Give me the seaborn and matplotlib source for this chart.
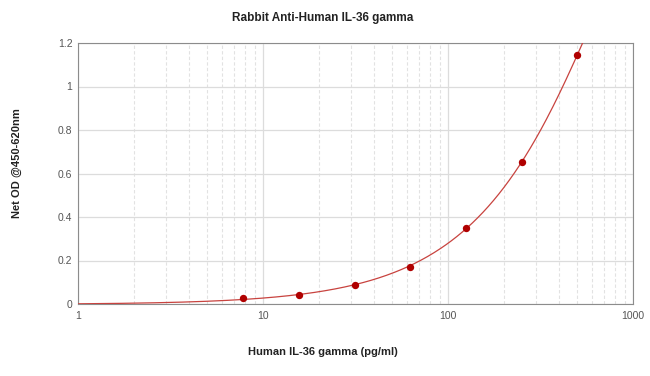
import numpy as np
import pandas as pd
import matplotlib
matplotlib.use("Agg")
import matplotlib.pyplot as plt
import seaborn as sns
from matplotlib.ticker import LogLocator, FixedLocator, NullFormatter

concentration = [7.8125, 15.625, 31.25, 62.5, 125, 250, 500]
net_od = [0.028, 0.041, 0.087, 0.170, 0.349, 0.653, 1.145]
x_ticks = [1, 10, 100, 1000]
x_tick_labels = ["1", "10", "100", "1000"]
y_ticks = [0, 0.2, 0.4, 0.6, 0.8, 1, 1.2]
y_tick_labels = ["0", "0.2", "0.4", "0.6", "0.8", "1", "1.2"]

sns.set_theme(style="white")
plt.rcParams['font.family'] = ['Liberation Sans', 'DejaVu Sans']

df = pd.DataFrame({"conc": concentration, "od": net_od})
coef = np.polyfit(df["conc"], df["od"], 2)
xs = np.logspace(0, np.log10(700), 400)
fit = pd.DataFrame({"conc": xs, "od": np.polyval(coef, xs)})

fig = plt.figure(figsize=(6.5, 3.76), dpi=100)
ax = fig.add_axes([78/650, 1-304/376, (633-78)/650, (304-43)/376])

sns.lineplot(data=fit, x="conc", y="od", ax=ax, color="#c8433f", lw=0.9, zorder=3)
sns.scatterplot(data=df, x="conc", y="od", ax=ax, color="#b00000", s=28,
                edgecolor="#b00000", linewidth=0, zorder=4)

ax.set_xscale("log")
ax.set_xlim(1, 1000)
ax.set_ylim(0, 1.2)
ax.xaxis.set_major_locator(FixedLocator(x_ticks))
ax.set_xticklabels(x_tick_labels)
ax.xaxis.set_minor_locator(LogLocator(base=10, subs=np.arange(2, 10)))
ax.xaxis.set_minor_formatter(NullFormatter())
ax.set_yticks(y_ticks)
ax.set_yticklabels(y_tick_labels)

ax.grid(which="major", axis="both", color="#dcdcdc", lw=0.9, ls="-")
ax.grid(which="minor", axis="x", color="#e2e2e2", lw=0.8, ls=(0, (3, 2)))
ax.set_axisbelow(True)
for s in ax.spines.values():
    s.set_color("#8c8c8c")
    s.set_linewidth(0.8)

ax.tick_params(axis="both", which="both", length=0, labelsize=7.5, labelcolor="#555555")
ax.tick_params(axis="x", pad=5)
ax.tick_params(axis="y", pad=4)
ax.set_xlabel("")
ax.set_ylabel("")

fig.text(323/650, 1-18/376, "Rabbit Anti-Human IL-36 gamma", ha="center", va="center",
         fontsize=8.5, fontweight="bold", color="#222222")
fig.text(323/650, 1-352/376, "Human IL-36 gamma (pg/ml)", ha="center", va="center",
         fontsize=8, fontweight="bold", color="#222222")
fig.text(17/650, 1-163/376, "Net OD @450-620nm", ha="center", va="center",
         rotation=90, fontsize=8, fontweight="bold", color="#222222")

fig.savefig("out.png", dpi=100, facecolor="white")
